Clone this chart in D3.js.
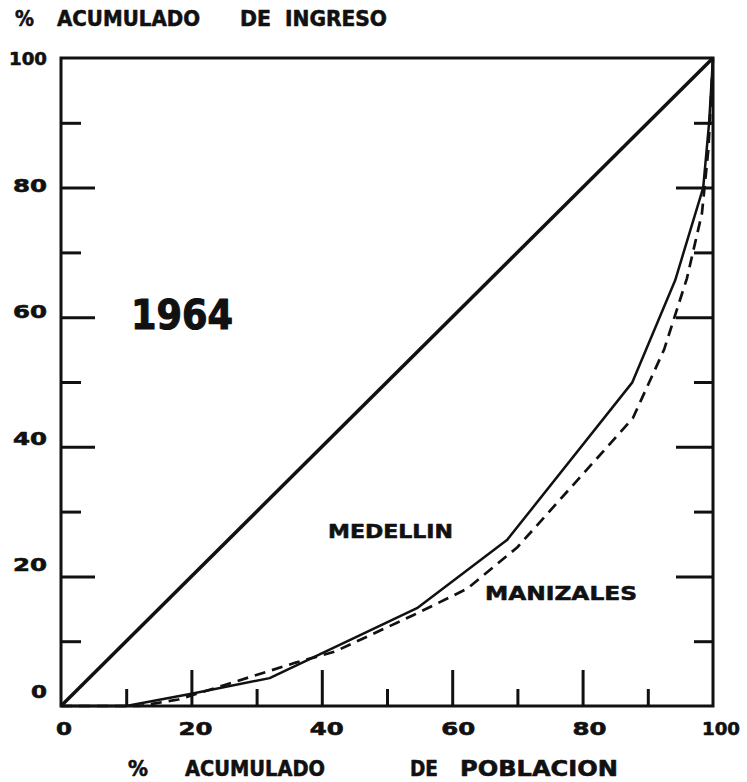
<!DOCTYPE html>
<html>
<head>
<meta charset="utf-8">
<script src="https://cdn.jsdelivr.net/npm/d3@7"></script>
<style>
  body { margin: 0; background: #fff; }
  svg { display: block; }
  text { font-family: "DejaVu Sans", sans-serif; font-weight: bold; fill: #111;
         stroke: #111; stroke-width: 0.6; stroke-linejoin: round; }
</style>
</head>
<body>
<script>
// curva de Lorenz, 1964
var equality = [[0, 0], [100, 100]];
var medellin = [[0, 0], [10, 0], [20, 1.9], [32, 4.3], [54.6, 15.1], [68.4, 25.6],
                [87.6, 49.9], [94.2, 65.7], [98.5, 80], [99.4, 90], [100, 100]];
var manizales = [[0, 0], [12, 0], [18, 1], [25, 3.2], [36, 6.7], [42, 8.4], [54, 14],
                 [62.3, 18.1], [70, 24.5], [87.7, 44.4], [92.5, 55], [96, 66],
                 [98.3, 76], [99.3, 86], [100, 100]];
var major_ticks = [20, 40, 60, 80];
var minor_ticks = [10, 30, 50, 70, 90];
var y_labels = [0, 20, 40, 60, 80, 100];
var x_labels = [0, 20, 40, 60, 80, 100];
var title_y = ['%', 'ACUMULADO', 'DE', 'INGRESO'];
var title_x = ['%', 'ACUMULADO', 'DE', 'POBLACION'];

(function() {
    'use strict';

    var svg = d3.select('body').append('svg')
        .attr('width', 747).attr('height', 782);

    var x = d3.scaleLinear().domain([0, 100]).range([61, 713]);
    var y = d3.scaleLinear().domain([0, 100]).range([706, 58]);
    // the hand lettering drifts a little from the grid
    var y_lab = d3.scaleLinear().domain([0, 100]).range([698, 65]);
    var x_lab = d3.scaleLinear().domain([0, 100]).range([64, 721]);
    var lab_width = [16, 34, 38];

    function ticks(axis, values, len, tr) {
        svg.append('g')
            .attr('transform', tr)
            .call(axis.tickValues(values).tickSizeInner(len).tickSizeOuter(0).tickFormat(''))
            .call(function(g) {
                g.select('.domain').remove();
                g.selectAll('line').attr('stroke', '#111').attr('stroke-width', 3);
            });
    }
    ticks(d3.axisLeft(y), major_ticks, -34, 'translate(61,0)');
    ticks(d3.axisLeft(y), minor_ticks, -20, 'translate(61,0)');
    ticks(d3.axisRight(y), major_ticks, -37, 'translate(713,0)');
    ticks(d3.axisRight(y), minor_ticks, -19, 'translate(713,0)');
    ticks(d3.axisBottom(x), major_ticks, -36, 'translate(0,706)');
    ticks(d3.axisBottom(x), minor_ticks, -17, 'translate(0,706)');

    // frame
    svg.append('path')
        .attr('d', 'M' + x(0) + ',' + y(100) + 'V' + y(0) + 'H' + x(100) + 'V' + y(100) + 'Z')
        .attr('fill', 'none')
        .attr('stroke', '#111')
        .attr('stroke-width', 3);

    var line = d3.line()
        .x(function(d) { return x(d[0]); })
        .y(function(d) { return y(d[1]); });

    svg.append('path').attr('d', line(equality))
        .attr('fill', 'none').attr('stroke', '#111').attr('stroke-width', 3.5);
    svg.append('path').attr('d', line(medellin))
        .attr('fill', 'none').attr('stroke', '#111').attr('stroke-width', 2.5)
        .attr('stroke-linejoin', 'round');
    svg.append('path').attr('d', line(manizales))
        .attr('fill', 'none').attr('stroke', '#111').attr('stroke-width', 2.7)
        .attr('stroke-dasharray', '11,7');

    svg.selectAll('text.ylab')
        .data(y_labels).enter().append('text')
        .attr('class', 'ylab')
        .attr('x', function(d) { return 47 - lab_width[String(d).length - 1]; })
        .attr('y', function(d) { return y_lab(d); })
        .attr('font-size', 18)
        .attr('textLength', function(d) { return lab_width[String(d).length - 1]; })
        .attr('lengthAdjust', 'spacingAndGlyphs')
        .text(function(d) { return d; });

    svg.selectAll('text.xlab')
        .data(x_labels).enter().append('text')
        .attr('class', 'xlab')
        .attr('x', function(d) { return x_lab(d) - lab_width[String(d).length - 1] / 2; })
        .attr('y', 735)
        .attr('font-size', 18)
        .attr('textLength', function(d) { return lab_width[String(d).length - 1]; })
        .attr('lengthAdjust', 'spacingAndGlyphs')
        .text(function(d) { return d; });

    function label(t, x0, base, size, width) {
        return svg.append('text')
            .attr('x', x0).attr('y', base)
            .attr('font-size', size)
            .attr('textLength', width)
            .attr('lengthAdjust', 'spacingAndGlyphs')
            .text(t);
    }
    function words(list, xs, widths, base) {
        list.forEach(function(w, i) { label(w, xs[i], base, 21, widths[i]); });
    }
    words(title_y, [15, 57, 240, 285], [19, 143, 31, 102], 26);
    words(title_x, [128, 185, 410, 460], [20, 140, 28, 158], 776);

    label('1964', 131, 329, 41, 102).style('stroke-width', 1.2);
    label('MEDELLIN', 328, 538, 20, 125);
    label('MANIZALES', 485, 600, 20, 152);
})();
</script>
</body>
</html>
